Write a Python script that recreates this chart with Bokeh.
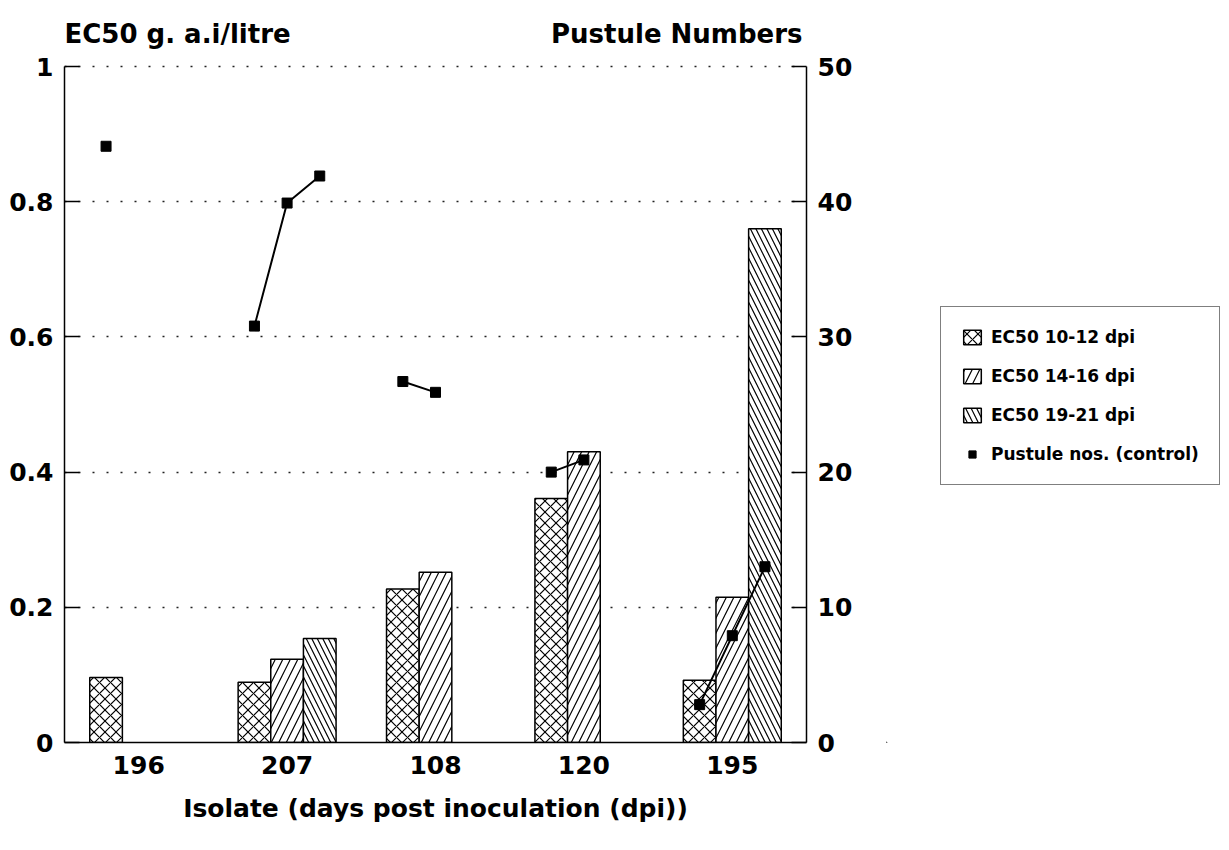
import math
from bokeh.plotting import figure
from bokeh.layouts import row
from bokeh.models import (Range1d, LinearAxis, FixedTicker, Legend, LegendItem,
                          Label, ColumnDataSource)
from bokeh.embed import file_html
from bokeh.resources import INLINE

nan = float("nan")

# ---- data ----
isolates = ["196", "207", "108", "120", "195"]
series_labels = ["EC50 10-12 dpi", "EC50 14-16 dpi", "EC50 19-21 dpi"]
ec50_10_12 = [0.096, 0.089, 0.227, 0.361, 0.092]
ec50_14_16 = [nan, 0.123, 0.252, 0.430, 0.215]
ec50_19_21 = [nan, 0.154, nan, nan, 0.760]
pustules_10_12 = [44.1, 30.8, 26.7, 20.0, 2.8]
pustules_14_16 = [nan, 39.9, 25.9, 20.9, 7.9]
pustules_19_21 = [nan, 41.9, nan, nan, 13.0]
left_ticks = [0, 0.2, 0.4, 0.6, 0.8, 1.0]
right_ticks = [0, 10, 20, 30, 40, 50]

FONT = "DejaVu Sans"
offsets = [-0.22, 0.0, 0.22]
bar_w = 0.22
FRAME_H = 724          # frame height in px (axis 0..1 uses 676 px of it)
Y_TOP = FRAME_H / 676  # extra room above 1 for the axis titles

patterns = ["x", "/", "\\"]
scales = [11, 15, 11]

p = figure(width=886, height=848, x_range=Range1d(-0.5, 4.5), y_range=Range1d(0, Y_TOP),
           output_backend="svg", toolbar_location=None,
           min_border_left=64, min_border_right=80, min_border_top=18, min_border_bottom=106)
p.outline_line_color = None
p.background_fill_color = "white"
p.border_fill_color = "white"
p.xgrid.visible = False
p.ygrid.ticker = FixedTicker(ticks=[0.2, 0.4, 0.6, 0.8, 1.0])
p.ygrid.grid_line_color = "#222222"
p.ygrid.grid_line_width = 1.5
p.ygrid.grid_line_dash = "2 12"

# left axis
ya = p.yaxis[0]
ya.ticker = FixedTicker(ticks=left_ticks)
ya.major_label_overrides = {0: "0", 1: "1"}
ya.bounds = (0, 1)
# bottom axis
xa = p.xaxis[0]
xa.ticker = FixedTicker(ticks=list(range(len(isolates))))
xa.major_label_overrides = {i: s for i, s in enumerate(isolates)}
xa.axis_label = "Isolate (days post inoculation (dpi))"

# right axis
p.extra_y_ranges = {"pust": Range1d(0, 50 * Y_TOP)}
ra = LinearAxis(y_range_name="pust", ticker=FixedTicker(ticks=right_ticks), bounds=(0, 50))
p.add_layout(ra, "right")

for ax in (ya, ra):
    ax.major_tick_in = 15
    ax.major_tick_out = 0
    ax.minor_tick_line_color = None
    ax.major_label_standoff = 11
for ax in (ya, ra, xa):
    ax.axis_line_color = "black"
    ax.axis_line_width = 1.5
    ax.major_tick_line_color = "black"
    ax.major_tick_line_width = 1.5
    ax.major_label_text_font = FONT
    ax.major_label_text_font_style = "bold"
    ax.major_label_text_font_size = "25px"
    ax.major_label_text_color = "black"
xa.major_tick_in = 0
xa.major_tick_out = 0
xa.minor_tick_line_color = None
xa.major_label_standoff = 13
xa.axis_label_text_font = FONT
xa.axis_label_text_font_style = "bold"
xa.axis_label_text_font_size = "25px"
xa.axis_label_text_color = "black"
xa.axis_label_standoff = 17

bar_style = dict(fill_color="white", line_color="black", line_width=1.5,
                 hatch_color="black", hatch_weight=1.2)

# bars
ec_series = [ec50_10_12, ec50_14_16, ec50_19_21]
for vals, off, pat, sc in zip(ec_series, offsets, patterns, scales):
    src = ColumnDataSource(dict(x=[i + off for i in range(len(isolates))], top=vals))
    p.vbar(x="x", top="top", width=bar_w, source=src, hatch_pattern=pat,
           hatch_scale=sc, **bar_style)

# pustule numbers (lines within each isolate group)
pust_series = [pustules_10_12, pustules_14_16, pustules_19_21]
xs, ys, px, py = [], [], [], []
for i in range(len(isolates)):
    gx, gy = [], []
    for vals, off in zip(pust_series, offsets):
        v = vals[i]
        if not math.isnan(v):
            gx.append(i + off)
            gy.append(v)
    xs.append(gx)
    ys.append(gy)
    px += gx
    py += gy
p.multi_line(xs=xs, ys=ys, y_range_name="pust", line_color="black", line_width=2)
p.scatter(x=px, y=py, y_range_name="pust", marker="square", size=10,
          fill_color="black", line_color="black")

# titles above the axes
p.add_layout(Label(x=-0.5, y=1.0, y_offset=33, text="EC50 g. a.i/litre",
                   text_font=FONT, text_font_style="bold", text_font_size="26px",
                   text_align="left", text_baseline="alphabetic", text_color="black"))
p.add_layout(Label(x=4.5, y=1.0, x_offset=-4, y_offset=33, text="Pustule Numbers",
                   text_font=FONT, text_font_style="bold", text_font_size="26px",
                   text_align="right", text_baseline="alphabetic", text_color="black"))

# ---- legend panel (separate figure to the right) ----
lf = figure(width=340, height=848, x_range=Range1d(0, 1), y_range=Range1d(0, 1),
            output_backend="svg", toolbar_location=None,
            min_border=0, min_border_left=0, min_border_right=0,
            min_border_top=0, min_border_bottom=0)
lf.axis.visible = False
lf.grid.visible = False
lf.outline_line_color = None
lf.background_fill_color = "white"
lf.border_fill_color = "white"
# legend proxies: one sample each, placed well outside the visible ranges
proxy_src = ColumnDataSource(dict(x=[-5.0], top=[-4.0], bottom=[-5.0]))
proxies = [lf.vbar(x="x", top="top", bottom="bottom", width=0.1, source=proxy_src,
                   hatch_pattern=pat, hatch_scale=sc, **bar_style)
           for pat, sc in zip(patterns, scales)]
sproxy = lf.scatter(x=[-5.0], y=[-5.0], marker="square", size=10,
                    fill_color="black", line_color="black")

legend = Legend(items=[LegendItem(label=series_labels[k], renderers=[proxies[k]]) for k in range(3)]
                + [LegendItem(label="Pustule nos. (control)", renderers=[sproxy])],
                location=(54, 257))
legend.border_line_color = "black"
legend.border_line_width = 1.5
legend.background_fill_color = "white"
legend.background_fill_alpha = 1
legend.label_text_font = FONT
legend.label_text_font_style = "bold"
legend.label_text_font_size = "17px"
legend.label_text_color = "black"
legend.glyph_width = 22
legend.glyph_height = 18
legend.label_height = 20
legend.spacing = 19
legend.padding = 20
legend.label_standoff = 8
legend.margin = 0
lf.add_layout(legend, "center")

layout = row(p, lf, spacing=0)
open("out.html", "w").write(file_html(layout, INLINE))
